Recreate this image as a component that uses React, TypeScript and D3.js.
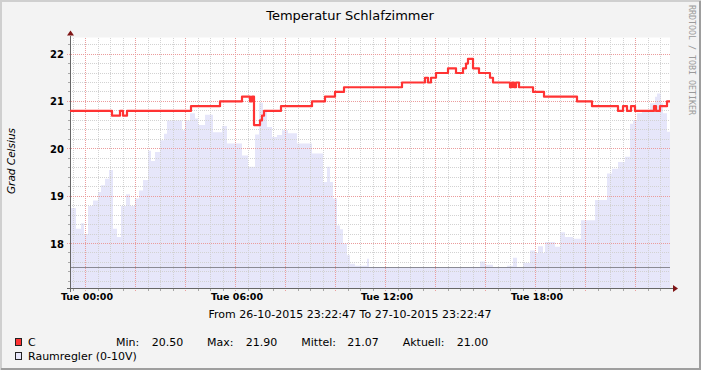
import React from 'react';
import * as d3 from 'd3';

const W = 701;
const H = 370;

// hours relative to Tue 00:00 (27-10-2015); window is Mon 23:22:47 .. Tue 23:22:47
const T_START = -(37 + 13 / 60) / 60;
const T_END = 24 + T_START;

// "C" (room temperature), step starts
const tempTimes = [
  T_START, 1.06, 1.38, 1.5, 1.66, 4.22, 5.38, 6.26, 6.58, 6.66, 6.74, 6.98, 7.06, 7.14,
  7.82, 9.06, 9.58, 9.98, 10.34, 12.66, 13.58, 13.7, 13.82, 14.02, 14.5, 14.82, 15.1,
  15.22, 15.3, 15.5, 15.74, 16.18, 16.3, 16.98, 17.06, 17.14, 17.22, 17.34, 17.9, 18.34,
  19.66, 20.26, 21.3, 21.5, 21.66, 21.82, 21.98, 22.74, 22.82, 22.98, 23.26,
];
const tempValues = [
  20.8, 20.7, 20.8, 20.7, 20.8, 20.9, 21.0, 21.1, 21.0, 21.1, 20.5, 20.6, 20.7, 20.8,
  20.9, 21.0, 21.1, 21.2, 21.3, 21.4, 21.5, 21.4, 21.5, 21.6, 21.7, 21.6, 21.7,
  21.8, 21.9, 21.7, 21.6, 21.5, 21.4, 21.3, 21.4, 21.3, 21.4, 21.3, 21.2, 21.1,
  21.0, 20.9, 20.8, 20.9, 20.8, 20.9, 20.8, 20.9, 20.8, 20.9, 21.0,
];

// "Raumregler (0-10V)", plotted on the same scale
const reglerTimes = [
  T_START, -0.38, -0.18, -0.06, 0.1, 0.3, 0.5, 0.62, 0.78, 0.94, 1.1, 1.26, 1.42, 1.62,
  1.78, 1.98, 2.14, 2.3, 2.5, 2.62, 2.78, 2.98, 3.14, 3.26, 3.86, 3.98, 4.18, 4.38, 4.5,
  4.78, 5.1, 5.46, 5.66, 6.26, 6.5, 6.78, 6.94, 7.1, 7.26, 7.46, 7.66, 7.86, 8.1, 8.46,
  9.06, 9.5, 9.66, 9.78, 9.9, 10.06, 10.18, 10.3, 10.46, 10.58, 10.78, 11.26, 11.34,
  15.78, 15.98, 16.3, 16.86, 17.1, 17.26, 17.5, 17.78, 17.98, 18.1, 18.3, 18.38, 18.78,
  18.98, 19.18, 19.5, 19.82, 20.38, 20.86, 21.06, 21.3, 21.58, 21.78, 21.9, 22.06, 22.26,
  22.58, 22.78, 22.86, 23.02, 23.1, 23.26,
];
const reglerValues = [
  18.75, 18.31, 18.43, 18.2, 18.79, 18.91, 19.09, 19.23, 19.37, 19.55, 18.31, 18.14, 18.79, 19.04,
  18.79, 18.95, 19.12, 19.34, 19.96, 19.74, 19.93, 20.18, 20.32, 20.6, 20.39, 20.6, 20.75, 20.64, 20.5,
  20.72, 20.35, 20.48, 20.11, 19.86, 19.62, 20.3, 20.97, 20.78, 20.46, 20.25, 20.29, 20.39, 20.33, 20.11,
  19.9, 19.3, 19.62, 19.3, 18.95, 18.38, 18.3, 18.0, 17.75, 17.57, 17.53, 17.68, 17.5,
  17.62, 17.55, 17.5, 17.53, 17.7, 17.5, 17.59, 17.85, 17.8, 17.94, 17.8, 18.03, 17.93,
  18.24, 18.14, 18.1, 18.49, 18.92, 19.48, 19.58, 19.72, 19.83, 20.53, 20.6, 20.75, 20.82,
  20.96, 21.1, 21.17, 20.96, 20.75, 20.36,
];

const hruleValue = 17.5;
const yTicks = [18, 19, 20, 21, 22];
const xTickHours = [0, 6, 12, 18];
const xTickLabels = ['Tue 00:00', 'Tue 06:00', 'Tue 12:00', 'Tue 18:00'];
const legendStatNames = ['Min:', 'Max:', 'Mittel:', 'Aktuell:'];
const legendStatValues = ['20.50', '21.90', '21.07', '21.00'];

const FONT = '"DejaVu Sans", Verdana, sans-serif';
const RED = '#ff3333';
const LAVENDER = '#e6e6fa';

const App: React.FC = () => {
  const svgRef = React.useRef<SVGSVGElement>(null);

  React.useEffect(() => {
    if (!svgRef.current) return;
    const svg = d3.select(svgRef.current);
    svg.selectAll('*').remove();

    const left = 70, right = 670, top = 37.5, bottom = 288.5;
    const x = d3.scaleLinear().domain([T_START, T_END]).range([left, right]);
    const y = d3.scaleLinear().domain([17.05, 22.35]).range([bottom, top]);
    const px = (v: number) => Math.floor(v) + 0.5;

    // background + frame
    svg.append('rect').attr('width', W).attr('height', H).attr('fill', '#f3f3f3');
    svg.append('rect').attr('x', left).attr('y', top).attr('width', right - left).attr('height', bottom - top).attr('fill', '#fff');
    svg.append('path').attr('d', `M1,${H} V1 H${W}`).attr('stroke', '#cfcfcf').attr('stroke-width', 2).attr('fill', 'none');
    svg.append('path').attr('d', `M${W - 1},1 V${H - 1} H1`).attr('stroke', '#9e9e9e').attr('stroke-width', 2).attr('fill', 'none');

    svg.append('defs').append('clipPath').attr('id', 'plot')
      .append('rect').attr('x', left).attr('y', top).attr('width', right - left).attr('height', bottom - top);

    const step = (times: number[], values: number[]) =>
      [...times.map((t, i) => [t, values[i]] as [number, number]), [T_END, values[values.length - 1]] as [number, number]];

    // Raumregler area
    const area = d3.area<[number, number]>()
      .x(d => x(d[0]))
      .y0(bottom)
      .y1(d => y(d[1]))
      .curve(d3.curveStepAfter);
    svg.append('path').attr('clip-path', 'url(#plot)')
      .datum(step(reglerTimes, reglerValues))
      .attr('d', area).attr('fill', LAVENDER);

    // grid
    const g = svg.append('g').attr('shape-rendering', 'crispEdges');
    const minorV: number[] = [];
    for (let h = -0.5; h <= T_END; h += 0.5) if (Math.abs(h % 2) > 1e-6) minorV.push(h);
    const majorV: number[] = [];
    for (let h = 0; h <= T_END; h += 2) majorV.push(h);
    const minorH: number[] = [];
    for (let v = 17.2; v < 22.35; v += 0.2) if (Math.abs(v - Math.round(v)) > 1e-6) minorH.push(v);

    minorV.forEach(h => {
      g.append('line').attr('x1', px(x(h))).attr('x2', px(x(h))).attr('y1', top).attr('y2', bottom)
        .attr('stroke', '#d2d2d2').attr('stroke-dasharray', '1,1');
      g.append('line').attr('x1', px(x(h))).attr('x2', px(x(h))).attr('y1', bottom).attr('y2', bottom + 2).attr('stroke', '#a8a8a8');
    });
    minorH.forEach(v => {
      g.append('line').attr('x1', left).attr('x2', right).attr('y1', px(y(v))).attr('y2', px(y(v)))
        .attr('stroke', '#d2d2d2').attr('stroke-dasharray', '1,1');
      g.append('line').attr('x1', left - 2).attr('x2', left).attr('y1', px(y(v))).attr('y2', px(y(v))).attr('stroke', '#a8a8a8');
    });
    majorV.forEach(h => {
      g.append('line').attr('x1', px(x(h))).attr('x2', px(x(h))).attr('y1', top).attr('y2', bottom + 3)
        .attr('stroke', '#eb9c9c').attr('stroke-dasharray', '1,1');
    });
    yTicks.forEach(v => {
      g.append('line').attr('x1', left - 3).attr('x2', right).attr('y1', px(y(v))).attr('y2', px(y(v)))
        .attr('stroke', '#eb9c9c').attr('stroke-dasharray', '1,1');
    });

    // hrule
    g.append('line').attr('x1', left).attr('x2', right).attr('y1', px(y(hruleValue))).attr('y2', px(y(hruleValue)))
      .attr('stroke', '#8a8a94');

    // temperature line
    const line = d3.line<[number, number]>()
      .x(d => x(d[0]))
      .y(d => y(d[1]))
      .curve(d3.curveStepAfter);
    svg.append('path').attr('clip-path', 'url(#plot)')
      .datum(step(tempTimes, tempValues))
      .attr('d', line).attr('fill', 'none').attr('stroke', RED).attr('stroke-width', 2.2)
      .attr('stroke-linejoin', 'round');

    // axes
    g.append('line').attr('x1', left - 3).attr('x2', right + 3).attr('y1', bottom).attr('y2', bottom).attr('stroke', '#666');
    g.append('line').attr('x1', left + 0.5).attr('x2', left + 0.5).attr('y1', bottom + 3).attr('y2', top - 2).attr('stroke', '#666');
    svg.append('path').attr('d', `M${right + 3},${bottom - 3.5} L${right + 8},${bottom} L${right + 3},${bottom + 3.5} Z`).attr('fill', '#7f1515');
    svg.append('path').attr('d', `M${left - 3},${top - 2} L${left + 0.5},${top - 7} L${left + 4},${top - 2} Z`).attr('fill', '#7f1515');

    // tick labels
    yTicks.forEach(v => {
      svg.append('text').attr('x', 64).attr('y', y(v) + 4).attr('text-anchor', 'end')
        .style('font-family', FONT).style('font-weight', 'bold').style('font-size', '10px').attr('fill', '#000')
        .text(String(v));
    });
    xTickHours.forEach((h, i) => {
      svg.append('text').attr('x', x(h) + 1.5).attr('y', 300).attr('text-anchor', 'middle')
        .style('font-family', FONT).style('font-weight', 'bold').style('font-size', '9.5px').attr('fill', '#000')
        .text(xTickLabels[i]);
    });

    // titles
    svg.append('text').attr('x', 350).attr('y', 20).attr('text-anchor', 'middle')
      .style('font-family', FONT).style('font-size', '13px').attr('fill', '#000')
      .text('Temperatur Schlafzimmer');
    svg.append('text').attr('transform', 'translate(15,161) rotate(-90)').attr('text-anchor', 'middle')
      .style('font-family', FONT).style('font-style', 'italic').style('font-size', '10.5px').attr('fill', '#000')
      .text('Grad Celsius');
    svg.append('text').attr('transform', 'translate(689,5) rotate(90)').attr('text-anchor', 'start')
      .style('font-family', '"DejaVu Sans Mono", monospace').style('font-size', '8.3px').attr('fill', '#9a9a9a')
      .text('RRDTOOL / TOBI OETIKER');

    // legend
    svg.append('text').attr('x', 350).attr('y', 318).attr('text-anchor', 'middle')
      .style('font-family', FONT).style('font-size', '11px').attr('fill', '#000')
      .text('From 26-10-2015 23:22:47 To 27-10-2015 23:22:47');

    svg.append('rect').attr('x', 15.5).attr('y', 338.5).attr('width', 6).attr('height', 7)
      .attr('fill', RED).attr('stroke', '#222').attr('stroke-width', 1);
    svg.append('rect').attr('x', 15.5).attr('y', 352.5).attr('width', 6).attr('height', 7)
      .attr('fill', LAVENDER).attr('stroke', '#222').attr('stroke-width', 1);

    const legendText = (tx: number, ty: number, s: string) =>
      svg.append('text').attr('x', tx).attr('y', ty)
        .style('font-family', FONT).style('font-size', '11px').attr('fill', '#000').text(s);

    legendText(28, 346, 'C');
    legendText(28, 360, 'Raumregler (0-10V)');
    const nameX = [116, 207, 301.3, 402.7];
    const valX = [151.7, 245.7, 347.3, 456.7];
    legendStatNames.forEach((n, i) => {
      legendText(nameX[i], 346, n);
      legendText(valX[i], 346, legendStatValues[i]);
    });
  }, []);

  return (
    <div style={{ position: 'absolute', left: 0, top: 0 }}>
      <svg ref={svgRef} width={W} height={H} viewBox={`0 0 ${W} ${H}`} style={{ display: 'block' }} />
    </div>
  );
};

export default App;
